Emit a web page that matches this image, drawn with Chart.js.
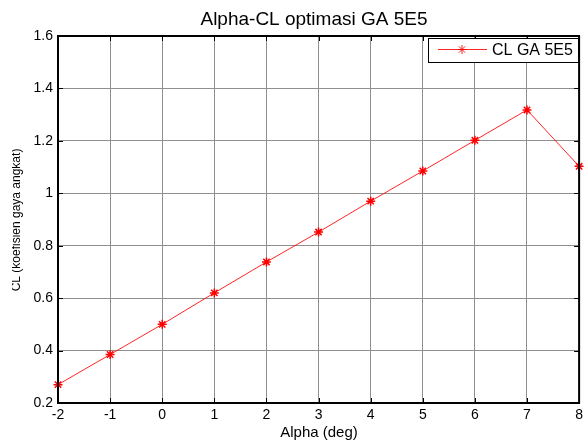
<!DOCTYPE html>
<html>
<head>
<meta charset="utf-8">
<script src="https://cdn.jsdelivr.net/npm/chart.js@4"></script>
<style>
  html, body { margin: 0; padding: 0; background: #fff; }
  #wrap { width: 587px; height: 443px; position: relative; }
</style>
</head>
<body>
<div id="wrap"><canvas id="c"></canvas></div>
<script>
  var alpha = [-2, -1, 0, 1, 2, 3, 4, 5, 6, 7, 8];
  var cl = [0.27, 0.385, 0.50, 0.62, 0.738, 0.852, 0.97, 1.085, 1.202, 1.318, 1.103];
  var seriesLabel = 'CL GA 5E5';
  var yTicks = [0.2, 0.4, 0.6, 0.8, 1, 1.2, 1.4, 1.6];

  var font = 'Liberation Sans, Arial, sans-serif';

  // title, axis labels, inward tick marks, axis box and legend drawn by hand
  var matlabLook = {
    id: 'matlabLook',
    afterDraw: function(chart) {
      var ctx = chart.ctx, a = chart.chartArea;
      var xs = chart.scales.x, ys = chart.scales.y;
      ctx.save();
      ctx.fillStyle = '#000';
      ctx.textAlign = 'center';
      ctx.textBaseline = 'middle';
      ctx.font = '19px ' + font;
      ctx.fillText('Alpha-CL optimasi GA 5E5', 314, 20);
      ctx.font = '15px ' + font;
      ctx.fillText('Alpha (deg)', 319, 433);

      // y label, cut at the left edge like the original export
      ctx.save();
      ctx.beginPath();
      ctx.rect(12, 0, 60, 443);
      ctx.clip();
      ctx.translate(17, 220);
      ctx.rotate(-Math.PI / 2);
      ctx.font = '12px ' + font;
      ctx.fillText('CL (koefisien gaya angkat)', 0, 0);
      ctx.restore();

      ctx.strokeStyle = '#000';
      ctx.lineWidth = 1;
      xs.ticks.forEach(function(t) {
        var px = Math.round(xs.getPixelForValue(t.value)) + 0.5;
        ctx.beginPath();
        ctx.moveTo(px, a.bottom); ctx.lineTo(px, a.bottom - 5);
        ctx.moveTo(px, a.top); ctx.lineTo(px, a.top + 5);
        ctx.stroke();
      });
      ys.ticks.forEach(function(t) {
        var py = Math.round(ys.getPixelForValue(t.value)) + 0.5;
        ctx.beginPath();
        ctx.moveTo(a.left, py); ctx.lineTo(a.left + 5, py);
        ctx.moveTo(a.right, py); ctx.lineTo(a.right - 5, py);
        ctx.stroke();
      });
      ctx.lineWidth = 2;
      ctx.strokeRect(a.left, a.top, a.right - a.left, a.bottom - a.top);

      // legend box
      var lx = 428, ly = 38, lw = 150, lh = 24;
      ctx.fillStyle = '#fff';
      ctx.fillRect(lx, ly, lw, lh);
      ctx.lineWidth = 1;
      ctx.strokeRect(lx + 0.5, ly + 0.5, lw, lh);
      ctx.strokeStyle = 'rgba(255,0,0,0.85)';
      ctx.beginPath();
      ctx.moveTo(lx + 10, ly + 11.5); ctx.lineTo(lx + 59, ly + 11.5);
      ctx.stroke();
      Chart.helpers.drawPoint(ctx, { pointStyle: 'star', radius: 4.5, borderWidth: 1.5 }, lx + 34, ly + 11.5);
      ctx.fillStyle = '#000';
      ctx.font = '16px ' + font;
      ctx.textAlign = 'left';
      ctx.fillText(seriesLabel, lx + 64, ly + 13);
      ctx.restore();
    }
  };

  new Chart(document.getElementById('c'), {
    type: 'line',
    data: {
      datasets: [{
        label: seriesLabel,
        data: alpha.map(function(a, i) { return { x: a, y: cl[i] }; }),
        borderColor: 'rgba(255,0,0,0.85)',
        borderWidth: 1,
        pointStyle: 'star',
        pointRadius: 4.5,
        pointBorderColor: '#ff0000',
        pointBorderWidth: 1.5,
        pointBackgroundColor: '#ff0000',
        tension: 0,
        clip: false
      }]
    },
    options: {
      responsive: true,
      maintainAspectRatio: false,
      animation: false,
      layout: { padding: { top: 36, right: 5, left: 0, bottom: 0 } },
      plugins: { legend: { display: false }, title: { display: false }, tooltip: { enabled: false } },
      scales: {
        x: {
          type: 'linear',
          min: -2, max: 8,
          afterFit: function(s) { s.height = 40; },
          ticks: { stepSize: 1, color: '#000', padding: 4, font: { family: font, size: 14 } },
          grid: { color: '#8f8f8f', drawTicks: false, lineWidth: 1 },
          border: { display: false }
        },
        y: {
          min: 0.2, max: 1.6,
          afterFit: function(s) { s.width = 58; },
          afterBuildTicks: function(s) { s.ticks = yTicks.map(function(v) { return { value: v }; }); },
          ticks: {
            color: '#000', padding: 5, font: { family: font, size: 14 },
            callback: function(v) { return String(Math.round(v * 10) / 10); }
          },
          grid: { color: '#8f8f8f', drawTicks: false, lineWidth: 1 },
          border: { display: false }
        }
      }
    },
    plugins: [matlabLook]
  });
</script>
</body>
</html>
